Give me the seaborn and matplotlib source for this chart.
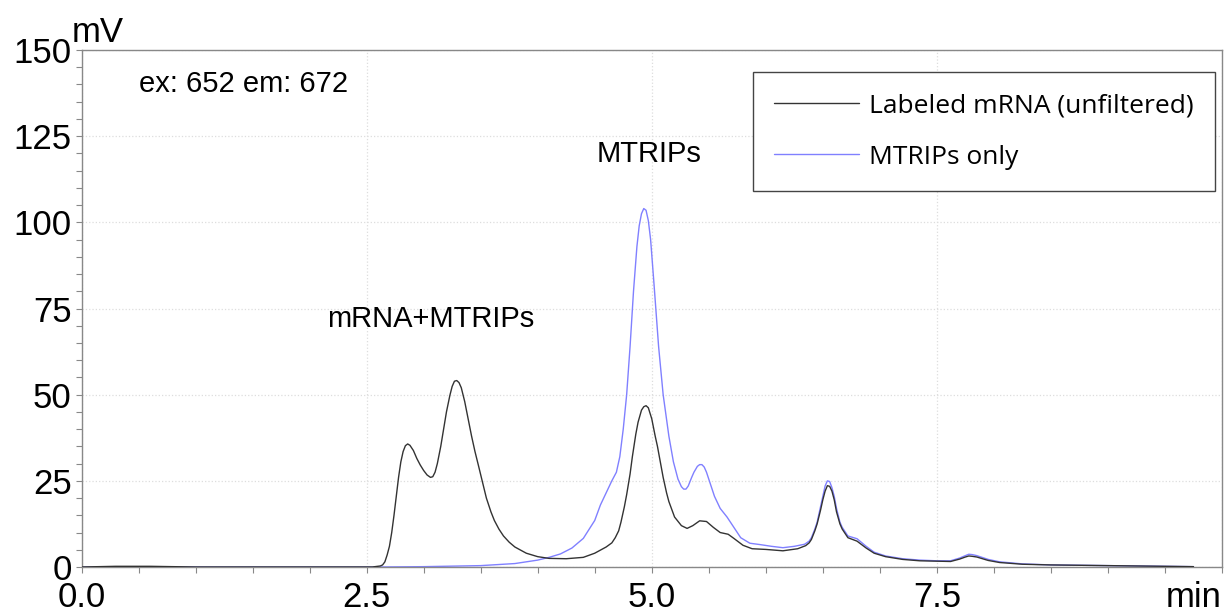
import numpy as np
import pandas as pd
import matplotlib
matplotlib.use("Agg")
import matplotlib.pyplot as plt
from matplotlib.ticker import MultipleLocator
import seaborn as sns

# chromatogram traces (time in min, signal in mV)
labeled_time = [0.0, 0.3, 0.6, 1.0, 2.0, 2.55, 2.62, 2.64, 2.66, 2.68, 2.70, 2.72, 2.74, 2.76,
                2.78, 2.80, 2.82, 2.84, 2.86, 2.88, 2.91, 2.94, 2.97, 3.00, 3.03, 3.06, 3.08,
                3.10, 3.12, 3.15, 3.18, 3.20, 3.23, 3.25, 3.27, 3.29, 3.31, 3.33, 3.36, 3.39,
                3.42, 3.45, 3.48, 3.52, 3.55, 3.59, 3.62, 3.66, 3.70, 3.75, 3.80, 3.90, 4.00,
                4.10, 4.25, 4.40, 4.50, 4.60, 4.65, 4.68, 4.71, 4.73, 4.76, 4.78, 4.81, 4.83,
                4.86, 4.88, 4.91, 4.93, 4.95, 4.97, 5.00, 5.03, 5.05, 5.08, 5.10, 5.13, 5.15,
                5.20, 5.26, 5.31, 5.36, 5.42, 5.48, 5.54, 5.60, 5.67, 5.72, 5.80, 5.88, 6.00,
                6.15, 6.28, 6.35, 6.38, 6.40, 6.43, 6.45, 6.48, 6.50, 6.52, 6.54, 6.56, 6.58,
                6.60, 6.62, 6.65, 6.67, 6.72, 6.80, 6.88, 6.95, 7.05, 7.20, 7.35, 7.50, 7.62,
                7.70, 7.75, 7.78, 7.81, 7.85, 7.95, 8.05, 8.25, 8.50, 9.00, 9.50, 9.75]
labeled_mv = [0.0, 0.2, 0.2, 0.0, 0.0, 0.0, 0.3, 0.6, 1.5, 3.5, 6.0, 10.0, 15.0, 20.5,
              26.0, 30.5, 33.5, 35.2, 35.7, 35.3, 33.8, 31.5, 29.6, 28.0, 26.7, 26.0, 26.2,
              27.5, 30.0, 35.0, 41.0, 45.0, 49.8, 52.4, 53.9, 54.1, 53.5, 52.0, 48.0, 43.0,
              38.0, 33.5, 29.5, 24.0, 20.0, 16.0, 13.5, 11.0, 9.0, 7.2, 5.8, 4.0, 3.0,
              2.5, 2.4, 2.8, 4.0, 5.8, 7.0, 8.5, 10.5, 13.0, 17.5, 21.0, 27.0, 32.0,
              38.5, 42.0, 45.5, 46.5, 46.8, 46.2, 43.0, 38.0, 35.0, 29.5, 26.0, 21.5, 19.0,
              14.5, 12.0, 11.2, 12.0, 13.4, 13.2, 11.5, 10.0, 9.5, 8.3, 6.3, 5.3, 5.1,
              4.7, 5.3, 6.2, 7.0, 8.0, 10.5, 12.5, 16.5, 19.5, 22.0, 23.6, 23.4, 22.0,
              19.5, 16.0, 12.5, 11.0, 8.5, 7.5, 5.5, 4.0, 3.0, 2.2, 1.8, 1.7, 1.6,
              2.3, 2.9, 3.2, 3.1, 2.9, 1.9, 1.3, 0.8, 0.6, 0.4, 0.2, 0.1]

mtrips_time = [0.0, 1.0, 2.0, 2.6, 3.0, 3.5, 3.8, 4.0, 4.1, 4.2, 4.3, 4.4, 4.5, 4.55, 4.60,
               4.65, 4.69, 4.72, 4.75, 4.78, 4.81, 4.84, 4.87, 4.89, 4.91, 4.93, 4.95, 4.97,
               4.99, 5.02, 5.06, 5.10, 5.15, 5.19, 5.23, 5.26, 5.28, 5.30, 5.32, 5.35, 5.37,
               5.40, 5.42, 5.44, 5.46, 5.48, 5.50, 5.55, 5.60, 5.66, 5.70, 5.78, 5.86, 5.95,
               6.05, 6.15, 6.25, 6.34, 6.38, 6.40, 6.43, 6.45, 6.48, 6.50, 6.52, 6.54, 6.56,
               6.58, 6.60, 6.62, 6.65, 6.67, 6.72, 6.80, 6.88, 6.95, 7.05, 7.20, 7.35, 7.50,
               7.62, 7.70, 7.75, 7.78, 7.81, 7.85, 7.95, 8.05, 8.25, 8.50, 9.00, 9.50, 9.75]
mtrips_mv = [0.0, 0.0, 0.0, 0.0, 0.1, 0.4, 1.0, 2.0, 2.8, 3.8, 5.5, 8.3, 13.5, 18.0, 21.5,
             25.0, 27.5, 32.0, 40.0, 50.0, 64.0, 80.0, 93.0, 99.0, 102.5, 104.0, 103.5, 100.5,
             95.0, 82.0, 64.0, 50.0, 38.0, 30.5, 25.5, 23.3, 22.6, 22.6, 23.5, 26.0, 27.5,
             29.2, 29.7, 29.7, 29.0, 27.5, 25.5, 20.5, 17.0, 14.5, 12.5, 8.5, 6.9, 6.5,
             6.0, 5.6, 6.0, 6.6, 7.5, 8.5, 11.0, 13.0, 17.5, 20.5, 23.5, 25.0, 24.8,
             23.0, 20.5, 17.0, 13.0, 11.5, 9.0, 8.2, 6.0, 4.3, 3.2, 2.4, 2.0, 1.8,
             1.8, 2.6, 3.3, 3.7, 3.6, 3.3, 2.2, 1.5, 0.9, 0.6, 0.4, 0.2, 0.1]

x_ticks = [0.0, 2.5, 5.0, 7.5, 10.0]
x_labels = ["0.0", "2.5", "5.0", "7.5", "min"]
y_ticks = [0, 25, 50, 75, 100, 125, 150]

labeled = pd.DataFrame({"time": labeled_time, "mv": labeled_mv})
mtrips = pd.DataFrame({"time": mtrips_time, "mv": mtrips_mv})

sns.set_theme(style="white")
plt.rcParams["font.family"] = ["Liberation Sans", "DejaVu Sans"]
plt.rcParams["text.color"] = "black"

fig = plt.figure(figsize=(12.25, 6.13), dpi=100)
ax = fig.add_axes([81.5 / 1225, 1 - 567 / 613, (1222 - 81.5) / 1225, (567 - 50) / 613])

sns.lineplot(data=labeled, x="time", y="mv", ax=ax, color="#333333", lw=1.0,
             label="Labeled mRNA (unfiltered)", zorder=3)
sns.lineplot(data=mtrips, x="time", y="mv", ax=ax, color="#8080ff", lw=1.0,
             label="MTRIPs only", zorder=2)

ax.set_xlim(0, 10)
ax.set_ylim(0, 150)
ax.set_xticks(x_ticks)
ax.set_xticklabels(x_labels)
ax.set_yticks(y_ticks)
ax.xaxis.set_minor_locator(MultipleLocator(0.5))
ax.yaxis.set_minor_locator(MultipleLocator(5))
ax.get_xticklabels()[-1].set_horizontalalignment("right")
ax.set_xlabel("")
ax.set_ylabel("")

ax.tick_params(which="both", direction="out", length=4, width=0.8, color="#888888",
               labelsize=25, labelcolor="black", bottom=True, left=True)
ax.tick_params(axis="x", pad=6)
ax.tick_params(axis="y", pad=3)
ax.grid(True, which="major", color="#dddddd", linestyle=":", lw=0.9)
for s in ax.spines.values():
    s.set_color("#888888")
    s.set_linewidth(1.0)

# unit labels and annotations
fig.text(72 / 1225, 1 - 42 / 613, "mV", fontsize=25, va="baseline", ha="left")
fig.text(139 / 1225, 1 - 92 / 613, "ex: 652 em: 672", fontsize=21, va="baseline")
fig.text(597 / 1225, 1 - 162 / 613, "MTRIPs", fontsize=21, va="baseline")
fig.text(327 / 1225, 1 - 327 / 613, "mRNA+MTRIPs", fontsize=21, va="baseline")

leg = ax.legend(loc="upper right", bbox_to_anchor=(1 - 7 / 1140.5, 1 - 22 / 517),
                borderaxespad=0, frameon=True, fancybox=False, framealpha=1,
                edgecolor="#444444", handlelength=3.2, handletextpad=0.4,
                labelspacing=1.0, borderpad=0.8, labelcolor="black",
                prop={"family": "Open Sans", "size": 19})
leg.get_frame().set_linewidth(1.0)

fig.savefig("out.png", dpi=100)
